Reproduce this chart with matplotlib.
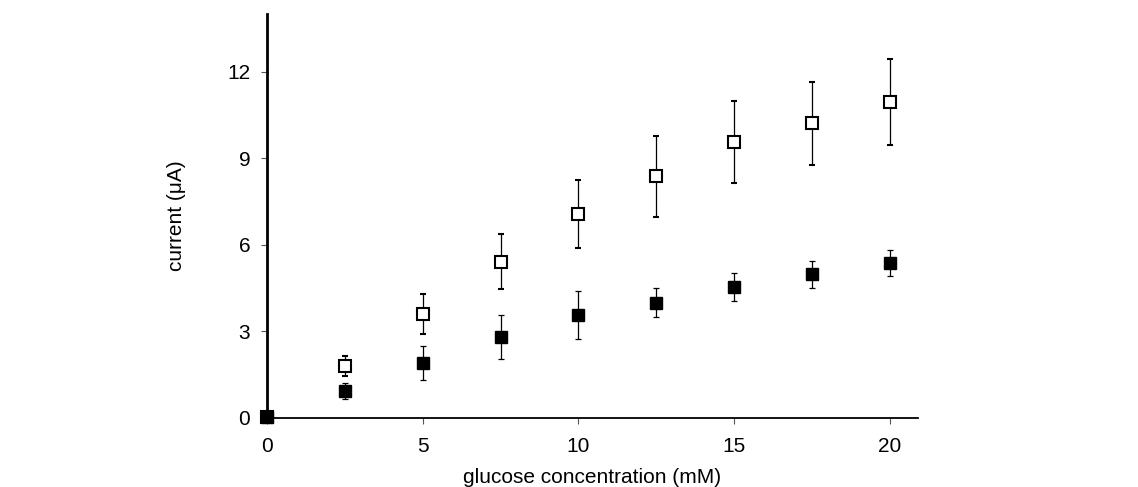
import numpy as np
from matplotlib import pyplot as plt

plt.rcParams['font.family'] = ['Liberation Sans', 'DejaVu Sans']

conc = [0, 2.5, 5, 7.5, 10, 12.5, 15, 17.5, 20]
open_cur = [0.05, 1.80, 3.60, 5.42, 7.08, 8.37, 9.56, 10.22, 10.95]
open_err = [0.0, 0.35, 0.68, 0.95, 1.18, 1.39, 1.43, 1.44, 1.50]
filled_cur = [0.05, 0.94, 1.90, 2.80, 3.57, 3.99, 4.55, 4.98, 5.37]
filled_err = [0.0, 0.28, 0.60, 0.76, 0.82, 0.50, 0.48, 0.46, 0.44]

fig = plt.figure(figsize=(11.38, 4.87), dpi=100)
ax = fig.add_axes([0.2346, 0.1417, 0.5721, 0.8296])

ax.errorbar(conc, open_cur, yerr=open_err, fmt="s", mfc="white", mec="black",
            mew=1.5, ms=8.5, ecolor="black", elinewidth=0.9, capsize=2.5, capthick=0.9,
            clip_on=False, zorder=3)
ax.errorbar(conc, filled_cur, yerr=filled_err, fmt="s", mfc="black", mec="black",
            ms=9, ecolor="black", elinewidth=0.9, capsize=2.5, capthick=0.9,
            clip_on=False, zorder=4)

ax.set_xlim(0, 20.9)
ax.set_ylim(0, 14)
ax.set_xticks([0, 5, 10, 15, 20])
ax.set_yticks([0, 3, 6, 9, 12])
ax.spines["top"].set_visible(False)
ax.spines["right"].set_visible(False)
ax.spines["left"].set_linewidth(2)
ax.spines["bottom"].set_linewidth(1.3)
ax.tick_params(axis="both", labelsize=15, direction="out", length=4, width=0.8,
               color="#555555")
ax.tick_params(axis="y", pad=8)
ax.tick_params(axis="x", pad=10)

ax.set_xlabel("glucose concentration (mM)", fontsize=15)
ax.xaxis.set_label_coords(0.5, -0.125)
ax.set_ylabel("current (\u03bcA)", fontsize=15)
ax.yaxis.set_label_coords(-0.125, 0.5)

fig.savefig("out.png", dpi=100)
